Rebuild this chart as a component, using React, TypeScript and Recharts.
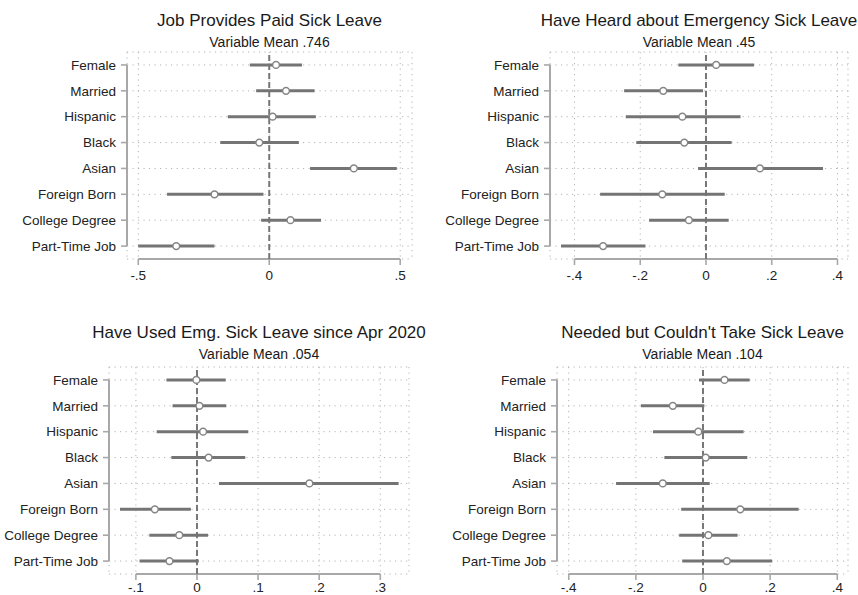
import React from "react";
import {
  ScatterChart,
  Scatter,
  XAxis,
  YAxis,
  CartesianGrid,
  ReferenceLine,
  ErrorBar,
} from "recharts";

const FONT = "'Liberation Sans', Arial, Helvetica, sans-serif";

const categories = [
  "Female",
  "Married",
  "Hispanic",
  "Black",
  "Asian",
  "Foreign Born",
  "College Degree",
  "Part-Time Job",
];

// Job Provides Paid Sick Leave
const paidEst = [0.026, 0.064, 0.013, -0.038, 0.323, -0.209, 0.081, -0.355];
const paidLow = [-0.074, -0.05, -0.158, -0.187, 0.156, -0.39, -0.031, -0.5];
const paidHigh = [0.125, 0.173, 0.178, 0.113, 0.487, -0.022, 0.198, -0.209];
const paidTicks = [-0.5, 0, 0.5];

// Have Heard about Emergency Sick Leave
const heardEst = [0.031, -0.13, -0.072, -0.066, 0.164, -0.133, -0.052, -0.313];
const heardLow = [-0.084, -0.249, -0.244, -0.212, -0.024, -0.322, -0.173, -0.441];
const heardHigh = [0.146, -0.009, 0.105, 0.078, 0.356, 0.057, 0.069, -0.184];
const heardTicks = [-0.4, -0.2, 0, 0.2, 0.4];

// Have Used Emg. Sick Leave since Apr 2020
const usedEst = [-0.001, 0.004, 0.01, 0.019, 0.184, -0.069, -0.029, -0.045];
const usedLow = [-0.05, -0.04, -0.066, -0.042, 0.036, -0.126, -0.078, -0.094];
const usedHigh = [0.047, 0.048, 0.084, 0.079, 0.33, -0.01, 0.018, 0.003];
const usedTicks = [-0.1, 0, 0.1, 0.2, 0.3];

// Needed but Couldn't Take Sick Leave
const neededEst = [0.064, -0.09, -0.014, 0.008, -0.12, 0.111, 0.016, 0.071];
const neededLow = [-0.012, -0.185, -0.149, -0.115, -0.259, -0.065, -0.071, -0.062];
const neededHigh = [0.139, 0.004, 0.121, 0.132, 0.02, 0.285, 0.103, 0.206];
const neededTicks = [-0.4, -0.2, 0, 0.2, 0.4];

const GRID = "#b3b3b3";
const AXIS = "#a8a8a8";
const CI = "#747474";
const MARK = "#858585";
const TEXT = "#222";

type Box = { left: number; top: number; width: number; height: number };
type Plot = { x0: number; x1: number; y0: number; y1: number };

interface PanelProps {
  title: string;
  subtitle: string;
  est: number[];
  low: number[];
  high: number[];
  ticks: number[];
  xDomain: [number, number];
  box: Box;
  plot: Plot;
  titleY: number;
  subY: number;
  labelGap: number;
}

function fmtTick(v: number) {
  if (v === 0) return "0";
  return String(Math.round(v * 100) / 100).replace("0.", ".");
}

const Ring = (props: any) => (
  <circle cx={props.cx} cy={props.cy} r={3.4} fill="#fff" stroke={MARK} strokeWidth={1.5} />
);

function CoefPanel({ title, subtitle, est, low, high, ticks, xDomain, box, plot, titleY, subY, labelGap }: PanelProps) {
  const n = categories.length;
  const rows = categories.map((name, i) => ({
    name,
    pos: n - i,
    est: est[i],
    err: [est[i] - low[i], high[i] - est[i]],
  }));
  const yTicks = categories.map((_, i) => i + 1);
  const xAxisH = 20;
  const margin = {
    top: plot.y0 - box.top,
    left: 5,
    right: box.left + box.width - plot.x1,
    bottom: box.top + box.height - plot.y1 - xAxisH,
  };
  const yAxisW = plot.x0 - box.left - 5;
  const cx = (plot.x0 + plot.x1) / 2 - box.left;
  const tickStyle = { fontSize: 13.5, fill: TEXT, fontFamily: FONT };

  return (
    <div style={{ position: "absolute", left: box.left, top: box.top, width: box.width, height: box.height }}>
      <ScatterChart width={box.width} height={box.height} margin={margin}>
        <CartesianGrid stroke={GRID} strokeDasharray="1.2 4.3" strokeWidth={1} />
        <XAxis
          type="number"
          dataKey="est"
          domain={xDomain}
          allowDataOverflow
          ticks={ticks}
          interval={0}
          tickFormatter={fmtTick}
          axisLine={false}
          tickLine={{ stroke: AXIS, strokeWidth: 1.6 }}
          tickSize={6}
          tickMargin={labelGap}
          height={xAxisH}
          tick={tickStyle}
        />
        <YAxis
          type="number"
          dataKey="pos"
          domain={[0.5, n + 0.5]}
          allowDataOverflow
          ticks={yTicks}
          interval={0}
          tickFormatter={(v: number) => categories[n - v]}
          width={yAxisW}
          axisLine={false}
          tickLine={{ stroke: AXIS, strokeWidth: 1.6 }}
          tickSize={6}
          tickMargin={5}
          tick={tickStyle}
        />
        <ReferenceLine
          ifOverflow="visible"
          segment={[
            { x: xDomain[0], y: 1 },
            { x: xDomain[0], y: n },
          ]}
          stroke={AXIS}
          strokeWidth={2}
        />
        <ReferenceLine
          ifOverflow="visible"
          segment={[
            { x: ticks[0], y: 0.5 },
            { x: ticks[ticks.length - 1], y: 0.5 },
          ]}
          stroke={AXIS}
          strokeWidth={2}
        />
        <ReferenceLine x={0} stroke="#777" strokeWidth={2} strokeDasharray="6 3" />
        <Scatter data={rows} shape={Ring} isAnimationActive={false}>
          <ErrorBar dataKey="err" direction="x" width={0} strokeWidth={3} stroke={CI} isAnimationActive={false} />
        </Scatter>
      </ScatterChart>
      <div
        style={{
          position: "absolute",
          left: cx - 250,
          width: 500,
          top: titleY - 12,
          lineHeight: "24px",
          fontSize: 17,
          fontFamily: FONT,
          color: "#1a1a1a",
          textAlign: "center",
          whiteSpace: "nowrap",
        }}
      >
        {title}
      </div>
      <div
        style={{
          position: "absolute",
          left: cx - 250,
          width: 500,
          top: subY - 10,
          lineHeight: "20px",
          fontSize: 14,
          fontFamily: FONT,
          color: "#1a1a1a",
          textAlign: "center",
          whiteSpace: "nowrap",
        }}
      >
        {subtitle}
      </div>
    </div>
  );
}

export default function App() {
  return (
    <div
      style={{
        position: "absolute",
        left: 0,
        top: 0,
        width: 858,
        height: 595,
        background: "#fff",
        overflow: "hidden",
      }}
    >
      <CoefPanel
        title="Job Provides Paid Sick Leave"
        subtitle="Variable Mean .746"
        est={paidEst}
        low={paidLow}
        high={paidHigh}
        ticks={paidTicks}
        xDomain={[-0.543, 0.545]}
        box={{ left: 0, top: 0, width: 429, height: 300 }}
        plot={{ x0: 127, x1: 412, y0: 52, y1: 259 }}
        titleY={21}
        subY={42}
        labelGap={5}
      />
      <CoefPanel
        title="Have Heard about Emergency Sick Leave"
        subtitle="Variable Mean .45"
        est={heardEst}
        low={heardLow}
        high={heardHigh}
        ticks={heardTicks}
        xDomain={[-0.4745, 0.432]}
        box={{ left: 429, top: 0, width: 429, height: 300 }}
        plot={{ x0: 550, x1: 848, y0: 52, y1: 259 }}
        titleY={21}
        subY={42}
        labelGap={5}
      />
      <CoefPanel
        title="Have Used Emg. Sick Leave since Apr 2020"
        subtitle="Variable Mean .054"
        est={usedEst}
        low={usedLow}
        high={usedHigh}
        ticks={usedTicks}
        xDomain={[-0.144, 0.347]}
        box={{ left: 0, top: 300, width: 429, height: 295 }}
        plot={{ x0: 109, x1: 409, y0: 367, y1: 574 }}
        titleY={33}
        subY={54}
        labelGap={2}
      />
      <CoefPanel
        title="Needed but Couldn't Take Sick Leave"
        subtitle="Variable Mean .104"
        est={neededEst}
        low={neededLow}
        high={neededHigh}
        ticks={neededTicks}
        xDomain={[-0.435, 0.432]}
        box={{ left: 429, top: 300, width: 429, height: 295 }}
        plot={{ x0: 557, x1: 848, y0: 367, y1: 574 }}
        titleY={33}
        subY={54}
        labelGap={2}
      />
    </div>
  );
}
